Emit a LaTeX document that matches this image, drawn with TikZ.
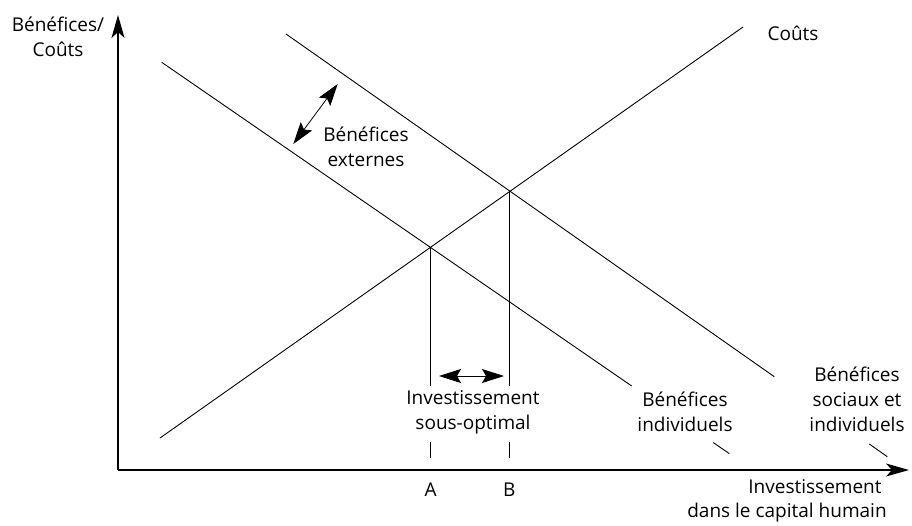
\documentclass[tikz,border=0pt]{standalone}
\usepackage{fontspec}
\setmainfont{Open Sans}
\usetikzlibrary{arrows.meta}
\tikzset{
  curve/.style={line width=0.9pt},
  axis/.style={line width=1.4pt,-{Stealth[length=23pt,width=13pt,inset=6pt]}},
  dbl/.style={line width=0.8pt,{Stealth[length=22pt,width=14pt,inset=4pt]}-{Stealth[length=22pt,width=14pt,inset=4pt]}},
  lbl/.style={font=\fontsize{19}{25}\selectfont,align=center,inner sep=0pt},
}
\begin{document}
\begin{tikzpicture}[x=1pt,y=-1pt]
\useasboundingbox (0,0) rectangle (912,525);
% axes
\coordinate (O) at (118,470);
\coordinate (Ytip) at (118,15);
\coordinate (Xtip) at (909,470);
\draw[axis] (O) -- (Ytip);
\draw[axis] (O) -- (Xtip);
% curves
\coordinate (c1) at (160,438);
\coordinate (c2) at (743,27);
\draw[curve] (c1) -- (c2);
\coordinate (i1) at (161.7,62.3);
\coordinate (i2) at (631.7,386);
\draw[curve] (i1) -- (i2);
\coordinate (i3) at (713.3,442.6);
\coordinate (i4) at (729.3,453.6);
\draw[curve] (i3) -- (i4);
\coordinate (s1) at (286,34);
\coordinate (s2) at (774.3,376.7);
\draw[curve] (s1) -- (s2);
\coordinate (s3) at (869.3,444);
\coordinate (s4) at (887.3,456.7);
\draw[curve] (s3) -- (s4);
% verticals
\coordinate (A1) at (430.7,248);
\coordinate (A2) at (430.7,386);
\coordinate (A3) at (430.7,442);
\coordinate (A4) at (430.7,458);
\coordinate (B1) at (509.3,191);
\coordinate (B2) at (509.3,386);
\coordinate (B3) at (509.3,442);
\coordinate (B4) at (509.3,458);
\draw[curve] (A1) -- (A2);
\draw[curve] (A3) -- (A4);
\draw[curve] (B1) -- (B2);
\draw[curve] (B3) -- (B4);
% double arrows
\coordinate (da1) at (439,376);
\coordinate (da2) at (504,376);
\draw[dbl] (da1) -- (da2);
\coordinate (de1) at (293.3,144);
\coordinate (de2) at (337.7,84);
\draw[dbl] (de1) -- (de2);
% labels
\node[lbl] (ylab) at (58,37) {Bénéfices/\\Coûts};
\node[lbl] (couts) at (793,33) {Coûts};
\node[lbl] (ext) at (366,147) {Bénéfices\\externes};
\node[lbl] (sous) at (473,412) {Investissement\\sous-optimal};
\node[lbl] (ind) at (685,412) {Bénéfices\\individuels};
\node[lbl] (soc) at (857,399) {Bénéfices\\sociaux et\\individuels};
\node[lbl] (la) at (430.7,490) {A};
\node[lbl] (lb) at (509.3,490) {B};
\node[lbl] (xl1) at (815,487) {Investissement};
\node[lbl] (xl2) at (787,513) {dans le capital humain};
\end{tikzpicture}
\end{document}
